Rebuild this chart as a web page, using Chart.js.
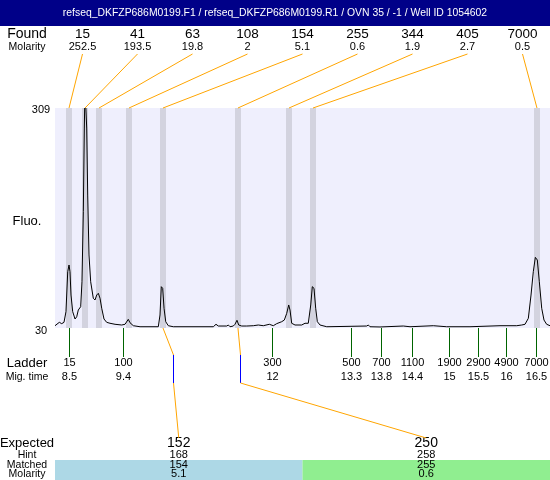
<!DOCTYPE html>
<html>
<head>
<meta charset="utf-8">
<script src="https://cdn.jsdelivr.net/npm/chart.js@4.4.0/dist/chart.umd.min.js"></script>
<style>
  body { margin: 0; background: #fff; }
  #wrap { width: 550px; height: 480px; }
</style>
</head>
<body>
<div id="wrap"><canvas id="gel" width="550" height="480"></canvas></div>
<script>
// run header
const titleText = 'refseq_DKFZP686M0199.F1 / refseq_DKFZP686M0199.R1 / OVN 35 / -1 / Well ID 1054602';

// peaks found (size in bp, molarity, migration time of the peak)
const foundSizes = [15, 41, 63, 108, 154, 255, 344, 405, 7000];
const foundMolarity = [252.5, 193.5, 19.8, 2, 5.1, 0.6, 1.9, 2.7, 0.5];
const peakTimes = [8.495, 8.769, 9.009, 9.522, 10.104, 11.388, 12.262, 12.673, 16.508];

// ladder
const ladderSizes = [15, 100, 300, 500, 700, 1100, 1900, 2900, 4900, 7000];
const ladderTimes = [8.50, 9.414, 11.966, 13.324, 13.832, 14.373, 15.007, 15.503, 15.983, 16.497];

// expected fragments
const expectedSizes = [152, 250];
const hintSizes = [168, 258];
const matchedSizes = [154, 255];
const matchedMolarity = [5.1, 0.6];

// fluorescence axis
const yTicks = [309, 30];
const timeRange = [8.255, 16.731];

// trace: [migration time, fluorescence]
const trace = [
  [8.255, 32.9], [8.329, 37.2], [8.370, 35.5], [8.409, 37.2], [8.443, 50.7],
  [8.473, 101.4], [8.495, 109.9], [8.512, 101.4], [8.529, 71.8], [8.558, 50.7],
  [8.598, 41.4], [8.627, 44.3], [8.654, 52.8], [8.695, 57], [8.717, 88.7],
  [8.740, 177.5], [8.757, 283.6], [8.769, 335], [8.798, 283.6], [8.815, 198.6],
  [8.837, 122.6], [8.866, 88.7], [8.911, 67.7], [8.940, 65.5], [8.969, 71.8],
  [8.997, 74], [9.026, 67.7], [9.055, 55], [9.094, 41.4], [9.140, 37.2],
  [9.197, 36], [9.283, 34.7], [9.397, 33.8], [9.454, 34.7], [9.510, 41],
  [9.539, 36.7], [9.596, 32.9], [9.711, 31.6], [10.024, 31.6], [10.053, 46.5],
  [10.075, 82.4], [10.099, 80.3], [10.122, 55], [10.151, 38], [10.195, 32.9],
  [10.281, 31.6], [10.966, 31.6], [11.012, 34.7], [11.051, 32.5], [11.195, 32.5],
  [11.223, 33.8], [11.252, 31.6], [11.308, 32.5], [11.337, 34.7], [11.371, 39.8],
  [11.401, 33.8], [11.452, 32.5], [11.538, 32.5], [11.651, 32.9], [11.736, 33.8],
  [11.822, 32.9], [11.925, 34.7], [11.993, 32.9], [12.051, 35.5], [12.137, 38],
  [12.182, 40.1], [12.223, 48.6], [12.257, 59.2], [12.279, 52.8], [12.308, 36],
  [12.365, 33.8], [12.479, 33.8], [12.536, 36], [12.592, 36], [12.634, 59.2],
  [12.661, 82.4], [12.690, 80.3], [12.719, 55], [12.747, 38], [12.793, 33.8],
  [12.908, 31.6], [13.592, 32.5], [13.620, 33.8], [13.649, 31.6], [13.820, 31.3],
  [14.219, 32.5], [14.334, 31.6], [14.733, 32.9], [14.962, 31.6], [15.361, 31.6],
  [15.875, 32.9], [16.161, 32.9], [16.247, 33.8], [16.303, 34.7], [16.360, 42.3],
  [16.406, 71.8], [16.445, 101.4], [16.480, 119.6], [16.514, 116.2], [16.548, 88.7],
  [16.589, 55], [16.628, 40.1], [16.674, 34.7], [16.731, 32.9]
];

const FONT = '"Liberation Sans", Arial, sans-serif';
const ORANGE = '#ffa500';

function label(ctx, str, x, y, size, color, align) {
    ctx.font = size + 'px ' + FONT;
    ctx.fillStyle = color || '#000';
    ctx.textAlign = align || 'center';
    ctx.textBaseline = 'middle';
    ctx.fillText(String(str), x, y);
}

function line(ctx, pts, color) {
    ctx.strokeStyle = color;
    ctx.lineWidth = 1;
    ctx.beginPath();
    pts.forEach((p, i) => i ? ctx.lineTo(p[0], p[1]) : ctx.moveTo(p[0], p[1]));
    ctx.stroke();
}

// size -> time, linear between found peaks
function sizeToTime(s) {
    for (let i = 0; i < foundSizes.length - 1; i++) {
        if (s >= foundSizes[i] && s <= foundSizes[i + 1]) {
            const f = (s - foundSizes[i]) / (foundSizes[i + 1] - foundSizes[i]);
            return peakTimes[i] + f * (peakTimes[i + 1] - peakTimes[i]);
        }
    }
    return peakTimes[0];
}

const overlay = {
    id: 'overlay',
    beforeDatasetsDraw(chart) {
        const { ctx, chartArea: a, scales: { x } } = chart;
        ctx.save();
        ctx.fillStyle = '#efeffd';
        ctx.fillRect(a.left, a.top, a.right - a.left, a.bottom - a.top);
        ctx.fillStyle = '#d3d3df';
        peakTimes.forEach(t => {
            const px = Math.round(x.getPixelForValue(t));
            ctx.fillRect(px - 3, a.top, 6, a.bottom - a.top);
        });
        ctx.restore();
    },
    afterDraw(chart) {
        const { ctx, chartArea: a, scales: { x } } = chart;
        ctx.save();

        // header bar
        ctx.fillStyle = '#000088';
        ctx.fillRect(0, 0, 550, 26);
        label(ctx, titleText, 275, 13, 10.4, '#fff');

        // row captions
        label(ctx, 'Found', 27, 34, 14);
        label(ctx, 'Molarity', 27, 47, 10.5);
        label(ctx, 'Fluo.', 27, 221, 13);
        label(ctx, 'Ladder', 27, 363, 13);
        label(ctx, 'Mig. time', 27, 377, 10.5);
        label(ctx, 'Expected', 27, 443, 13);
        label(ctx, 'Hint', 27, 455, 10.5);
        label(ctx, 'Matched', 27, 465, 10.5);
        label(ctx, 'Molarity', 27, 474, 10.5);

        // y labels
        label(ctx, yTicks[0], 41, 110, 11);
        label(ctx, yTicks[1], 41, 331, 11);

        // found peaks
        const colW = (a.right - a.left) / foundSizes.length;
        foundSizes.forEach((s, i) => {
            const cx = a.left + colW * (i + 0.5);
            label(ctx, s, cx, 34, 13.5);
            label(ctx, foundMolarity[i], cx, 47, 11);
            line(ctx, [[cx, 54], [x.getPixelForValue(peakTimes[i]), a.top]], ORANGE);
        });

        // ladder
        ladderSizes.forEach((s, i) => {
            const lx = Math.round(x.getPixelForValue(ladderTimes[i])) + 0.5;
            line(ctx, [[lx, a.bottom], [lx, 357]], '#006400');
            label(ctx, s, lx, 363, 11);
            label(ctx, Math.round(ladderTimes[i] * 10) / 10, lx, 377, 11);
        });

        // expected table
        const colW2 = (a.right - a.left) / expectedSizes.length;
        const fills = ['#add8e6', '#90ee90'];
        expectedSizes.forEach((s, i) => {
            const x0 = a.left + colW2 * i;
            ctx.fillStyle = fills[i];
            ctx.fillRect(x0, 460, colW2, 20);
        });
        expectedSizes.forEach((s, i) => {
            const cx = a.left + colW2 * (i + 0.5);
            label(ctx, s, cx, 443, 14);
            label(ctx, hintSizes[i], cx, 455, 11);
            label(ctx, matchedSizes[i], cx, 465, 11);
            label(ctx, matchedMolarity[i], cx, 474, 11);

            const pk = peakTimes[foundSizes.indexOf(matchedSizes[i])];
            const px = x.getPixelForValue(pk);
            const hx = Math.round(x.getPixelForValue(sizeToTime(hintSizes[i]))) + 0.5;
            line(ctx, [[px, a.bottom], [hx, 355]], ORANGE);
            line(ctx, [[hx, 355], [hx, 383]], '#0000ff');
            line(ctx, [[hx, 383], [cx, 438]], ORANGE);
        });

        ctx.restore();
    }
};

new Chart(document.getElementById('gel'), {
    type: 'line',
    data: {
        datasets: [{
            data: trace.map(p => ({ x: p[0], y: p[1] })),
            borderColor: '#000',
            borderWidth: 1,
            pointRadius: 0,
            tension: 0,
            fill: false
        }]
    },
    options: {
        responsive: false,
        devicePixelRatio: 1,
        animation: false,
        layout: { padding: { left: 55, right: 0, top: 108, bottom: 152 } },
        scales: {
            x: { type: 'linear', min: timeRange[0], max: timeRange[1], display: false },
            y: { min: yTicks[1], max: yTicks[0], display: false }
        },
        plugins: { legend: { display: false }, tooltip: { enabled: false } }
    },
    plugins: [overlay]
});
</script>
</body>
</html>
